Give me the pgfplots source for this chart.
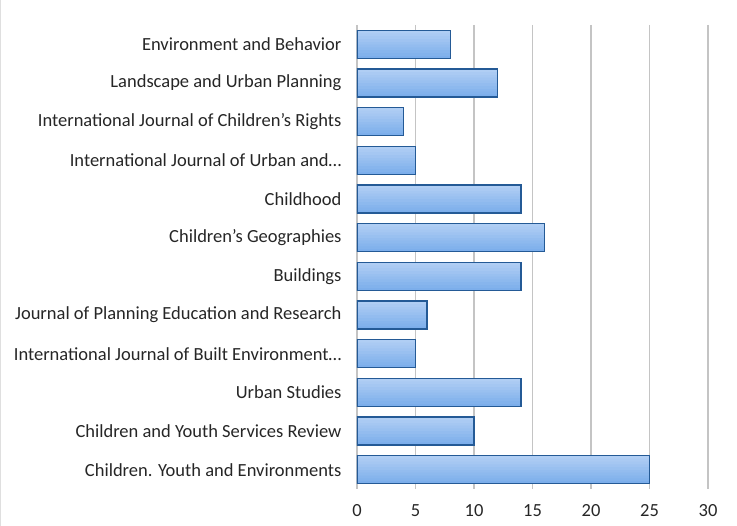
\documentclass[border=0pt]{standalone}
\usepackage{fontspec}
\setmainfont{Carlito}
\usepackage{pgfplots}
\usepackage{pgfplotstable}
\pgfplotsset{compat=1.18}
\definecolor{barTop}{HTML}{B0CEF4}
\definecolor{barBot}{HTML}{7CAEEB}
\definecolor{barEdge}{HTML}{245A96}
\definecolor{gridGray}{HTML}{C4C4C4}

% value, row (0 = top)
\pgfplotstableread{
v  c
8  0
12 1
4  2
5  3
14 4
16 5
14 6
6  7
5  8
14 9
10 10
25 11
}\journals

% one horizontal strip of every bar, to build the vertical gradient
% (positive bar shift = upwards on the page)
\newcommand\strip[2]{%
  \addplot[draw=none, fill=barBot!#1!barTop, bar width=3.3pt,
           bar shift=#2pt, forget plot] table[x=v, y=c] {\journals};}

\begin{document}
\begin{tikzpicture}
\path[use as bounding box] (0pt,0pt) rectangle (737pt,526pt);
\draw[gray!25, line width=1pt] (0.5pt,0pt) -- (0.5pt,526pt);
\begin{axis}[
    at={(357pt,37pt)}, anchor=south west,
    scale only axis,
    width=351pt, height=464pt,
    xbar, bar width=28pt,
    xmin=0, xmax=30,
    ymin=-0.5, ymax=11.5,
    y dir=reverse,
    xtick={0,5,...,30},
    ytick={0,...,11},
    yticklabels={
        Environment and Behavior,
        Landscape and Urban Planning,
        International Journal of Children's Rights,
        International Journal of Urban and…,
        Childhood,
        Children's Geographies,
        Buildings,
        Journal of Planning Education and Research,
        International Journal of Built Environment…,
        Urban Studies,
        Children and Youth Services Review,
        Children. Youth and Environments},
    xmajorgrids,
    grid style={gridGray, line width=1.3pt},
    axis line style={draw=none},
    major tick length=0pt,
    tick label style={font=\fontsize{18.5}{22}\selectfont, text=black!85},
    yticklabel style={xshift=-12pt},
    xticklabel style={yshift=-12pt},
    /pgf/number format/assume math mode=true,
]
\strip{100}{-12.6}
\strip{89}{-9.8}
\strip{78}{-7}
\strip{67}{-4.2}
\strip{56}{-1.4}
\strip{44}{1.4}
\strip{33}{4.2}
\strip{22}{7}
\strip{11}{9.8}
\strip{0}{12.6}
\addplot[draw=barEdge, line width=1.4pt, fill=none] table[x=v, y=c] {\journals};
\end{axis}
\end{tikzpicture}
\end{document}
